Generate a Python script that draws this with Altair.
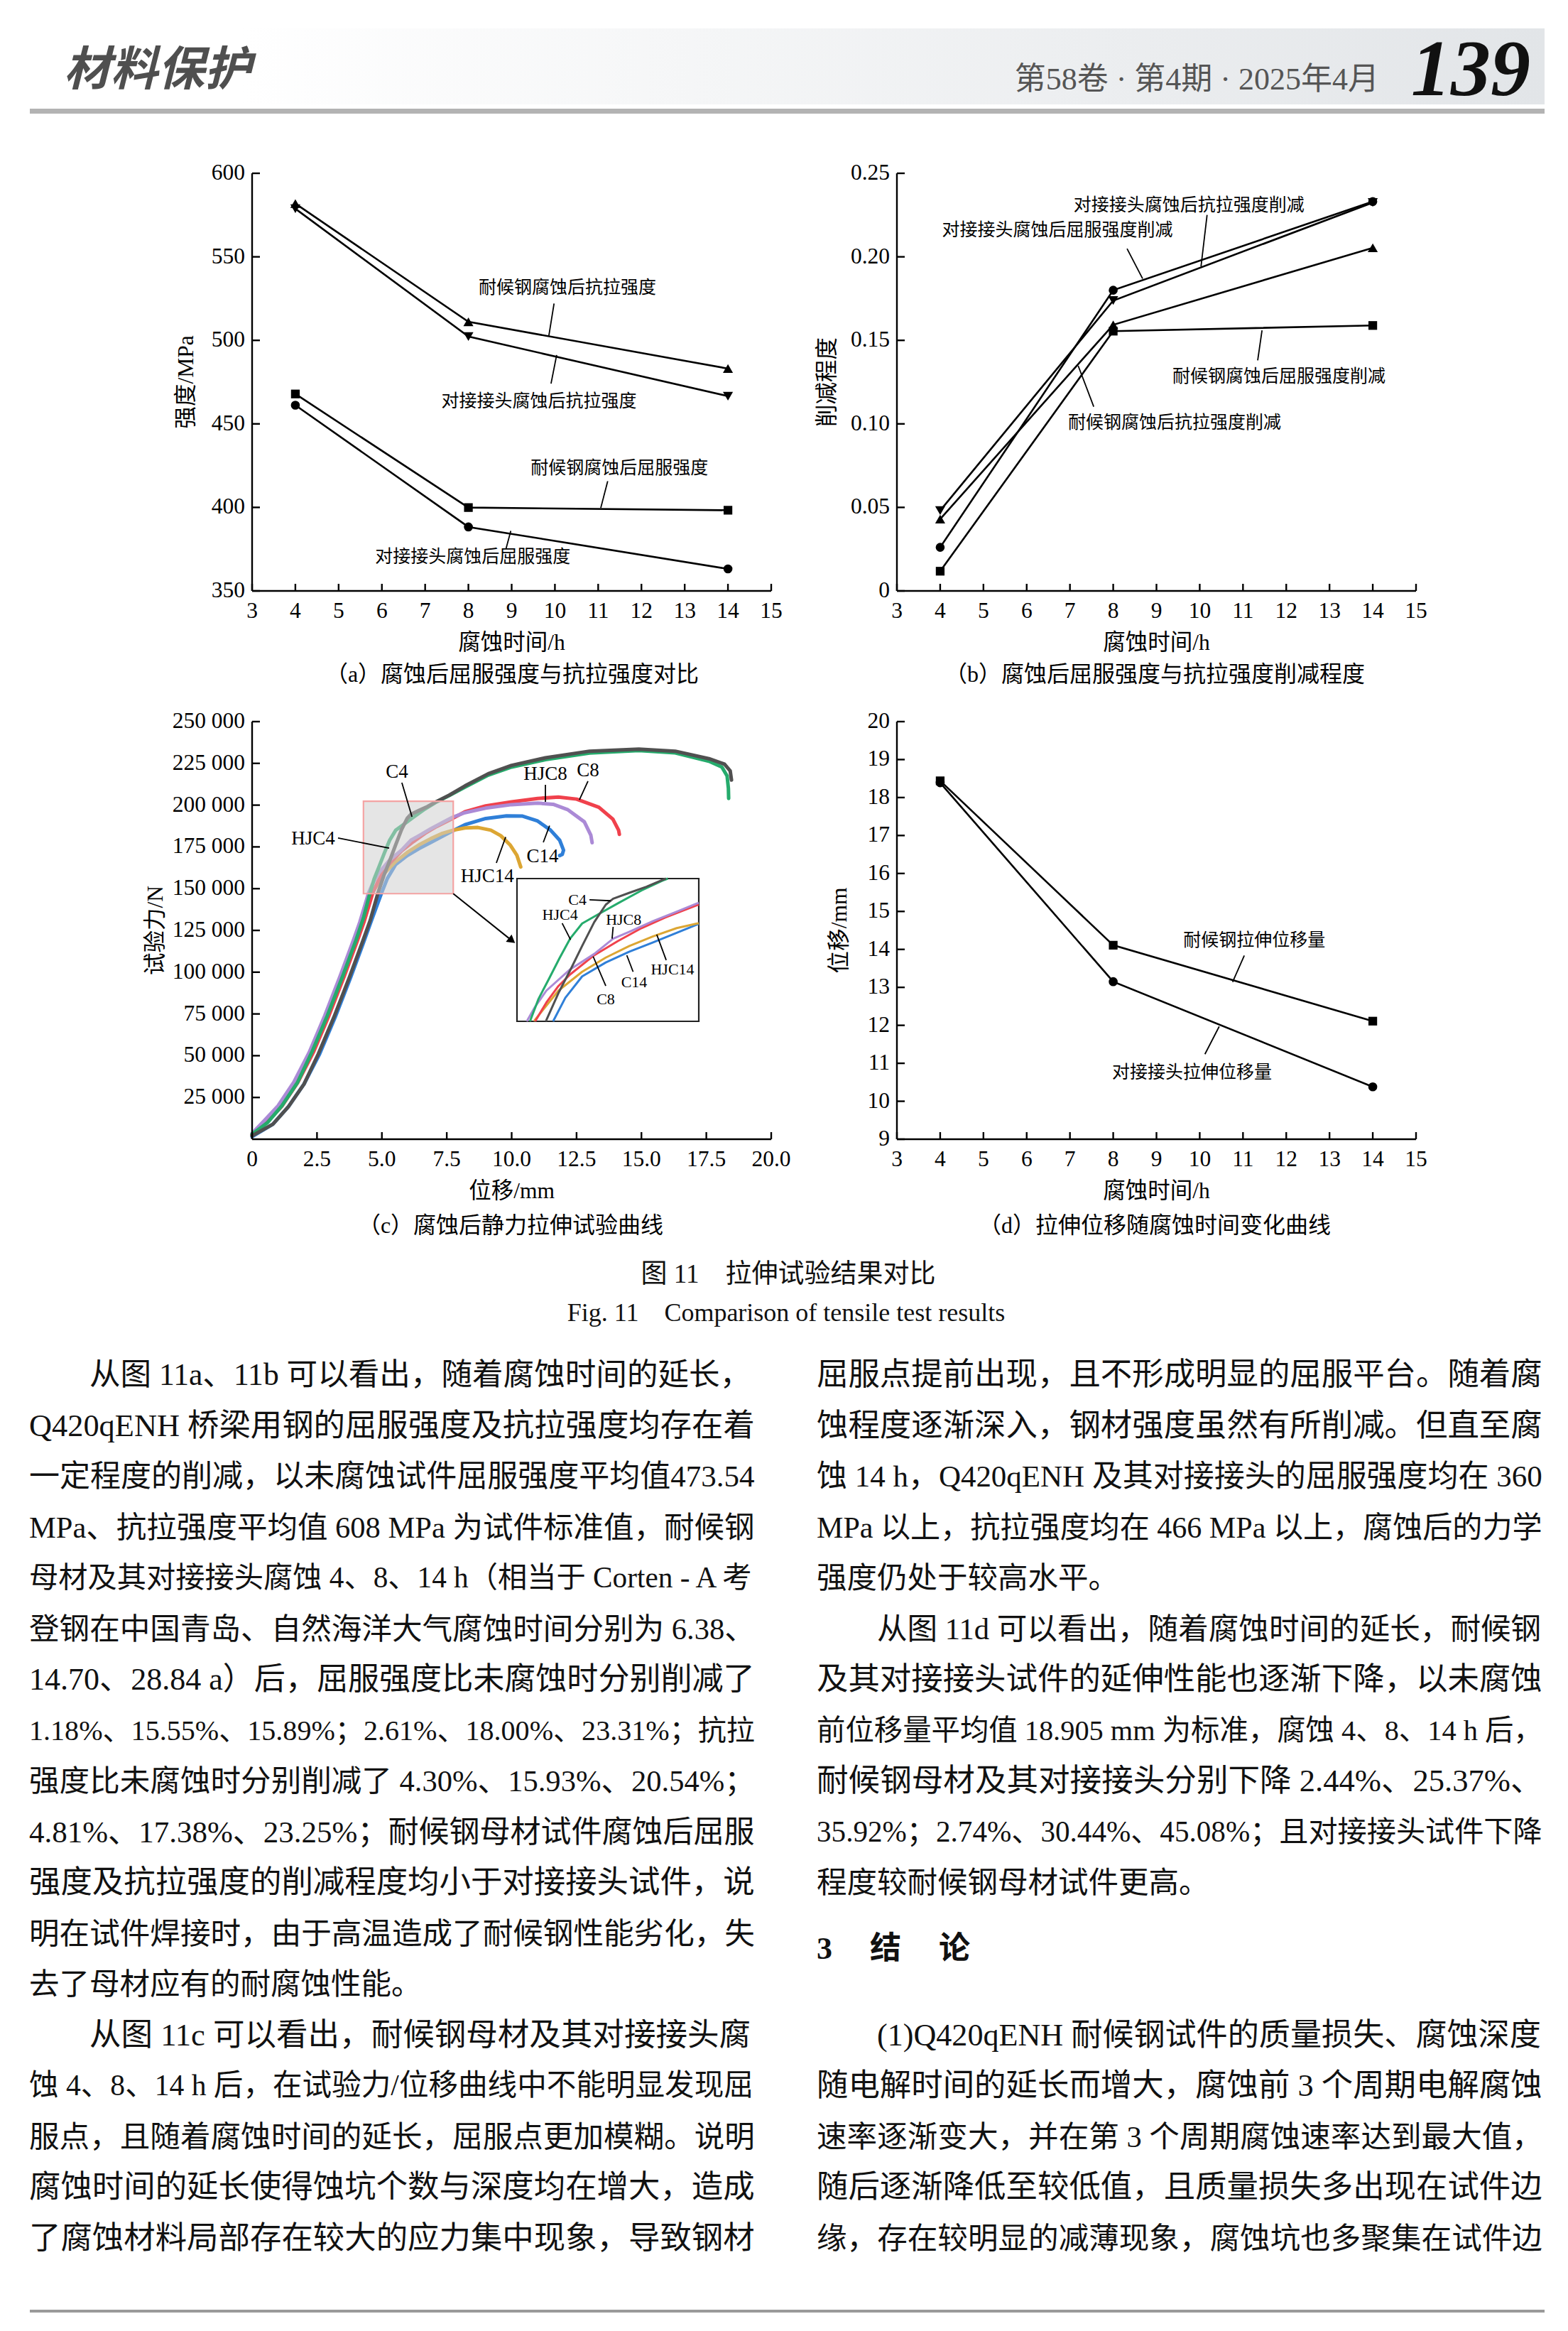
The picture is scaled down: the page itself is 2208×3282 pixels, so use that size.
import altair as alt
import pandas as pd

FONT = "Liberation Serif, Noto Sans CJK SC"
W, H = 731, 588

# ------------------------------------------------------------------ data
times = [4, 8, 14]
# (a) strength, MPa
a_tensile_steel = [581.9, 511.1, 483.1]
a_tensile_joint = [578.8, 502.3, 466.6]
a_yield_steel = [467.9, 399.9, 398.3]
a_yield_joint = [461.2, 388.3, 363.2]
# (b) reduction degree
b_yield_steel = [0.0118, 0.1555, 0.1589]
b_yield_joint = [0.0261, 0.1800, 0.2331]
b_tensile_steel = [0.0430, 0.1593, 0.2054]
b_tensile_joint = [0.0481, 0.1738, 0.2325]
# (d) displacement, mm
d_steel = [18.44, 14.11, 12.11]
d_joint = [18.39, 13.15, 10.38]
# (c) force-displacement curves (mm, kN)
c14_x = [0, 0.8, 1.4, 2.0, 2.6, 3.2, 3.8, 4.3, 4.6, 4.99, 5.21, 5.53, 5.98, 6.43, 6.88, 7.33, 7.72, 8.2, 9.0, 9.8, 10.4, 11.0, 11.5, 11.85, 12.0, 11.95, 11.85]
c14_f = [1.5, 9, 19.5, 33, 51, 73, 97, 118, 131, 147.5, 156.1, 164.4, 169.8, 174, 177.6, 181.3, 184.5, 188.3, 192, 193.6, 193.5, 190.5, 185, 179, 173, 170.5, 169.8]
hjc14_x = [0, 0.56, 1.15, 1.75, 2.35, 2.95, 3.55, 4.05, 4.3, 4.63, 5.08, 5.53, 5.98, 6.43, 6.88, 7.33, 7.72, 8.2, 8.7, 9.2, 9.58, 9.95, 10.2, 10.35]
hjc14_f = [2.8, 10.5, 20.5, 34.5, 52.5, 74.5, 98.5, 119.5, 131, 147.5, 158.9, 166.2, 171.7, 176.2, 179.9, 183.1, 184.9, 186.3, 186.6, 185, 181.7, 176, 170, 163]
c8_x = [0, 0.56, 1.16, 1.76, 2.36, 2.96, 3.56, 4.06, 4.31, 4.65, 4.85, 5.08, 5.31, 5.76, 6.21, 6.66, 7.11, 7.72, 8.2, 9.0, 10.0, 11.0, 11.8, 12.5, 13.36, 13.9, 14.12, 14.15]
c8_f = [2.5, 10, 20, 34, 52, 74, 98, 119, 130, 147.5, 154.3, 160.7, 165.3, 172.6, 178.1, 183.1, 187.2, 192, 196, 199.5, 202, 204, 204.8, 203.6, 198.7, 191.6, 185, 182.5]
hjc8_x = [0, 0.4, 1.0, 1.6, 2.2, 2.8, 3.4, 3.9, 4.15, 4.49, 4.63, 4.85, 5.3, 5.76, 6.12, 6.43, 6.88, 7.33, 7.72, 8.2, 9.0, 10.0, 11.0, 11.6, 12.17, 12.8, 13.05, 13.1]
hjc8_f = [3.5, 10, 20, 34, 52, 74, 98, 119, 130, 147.5, 152.5, 158.9, 167.1, 173.1, 179, 181.7, 185.8, 189.5, 192.7, 195.5, 198.2, 200.3, 201.2, 200.5, 197.2, 190, 182, 177.5]
hjc4_x = [0, 0.6, 1.15, 1.75, 2.3, 2.9, 3.5, 4.0, 4.3, 4.5, 4.7, 4.9, 5.1, 5.3, 5.53, 5.85, 6.21, 6.66, 7.06, 7.6, 8.2, 9.1, 10.0, 11.3, 13.0, 14.9, 16.3, 17.6, 18.1, 18.3, 18.35, 18.36]
hjc4_f = [3, 10, 20, 34, 52, 74, 98, 119, 133, 145, 155.7, 163.5, 171.5, 179, 184.9, 188.6, 192.7, 197.7, 201.5, 205.8, 210.8, 218, 222.8, 227.2, 231.2, 232.7, 231.3, 226.3, 222.8, 217.5, 210, 204]
c4_x = [0, 0.8, 1.4, 2.0, 2.55, 3.15, 3.75, 4.25, 4.55, 4.85, 5.08, 5.31, 5.53, 5.76, 5.98, 6.12, 6.43, 6.75, 7.06, 7.6, 8.2, 9.1, 10.0, 11.3, 13.0, 14.9, 16.3, 17.6, 18.2, 18.42, 18.47]
c4_f = [2, 9, 19.5, 33, 51, 73, 97, 118, 131, 147.5, 158, 167.1, 176.2, 185.4, 192.2, 194.5, 196.8, 199.1, 201.8, 206, 211.5, 218.8, 223.8, 228.3, 232.3, 233.5, 232.3, 227.8, 224.5, 220.5, 215]

curve_names = ["C14", "HJC14", "C8", "HJC8", "HJC4", "C4"]
curve_colors = ["#2f7fd8", "#dca633", "#f0414c", "#ab8ad6", "#25ab6c", "#505050"]
curve_x = [c14_x, hjc14_x, c8_x, hjc8_x, hjc4_x, c4_x]
curve_f = [c14_f, hjc14_f, c8_f, hjc8_f, hjc4_f, c4_f]

# zoomed window of (c)
zoom_x = [4.29, 7.75]
zoom_f = [147000, 202300]

# tick values
t_ticks = list(range(3, 16))
a_yticks = [350, 400, 450, 500, 550, 600]
b_yticks = [0, 0.05, 0.10, 0.15, 0.20, 0.25]
d_yticks = list(range(9, 21))
c_xticks = [0, 2.5, 5, 7.5, 10, 12.5, 15, 17.5, 20]
c_yticks = [25000, 50000, 75000, 100000, 125000, 150000, 175000, 200000, 225000, 250000]

# body text: (text, first line of paragraph, last line of paragraph)
body_left = [
    ("从图 11a、11b 可以看出，随着腐蚀时间的延长，", 1, 0),
    ("Q420qENH 桥梁用钢的屈服强度及抗拉强度均存在着", 0, 0),
    ("一定程度的削减，以未腐蚀试件屈服强度平均值473.54", 0, 0),
    ("MPa、抗拉强度平均值 608 MPa 为试件标准值，耐候钢", 0, 0),
    ("母材及其对接接头腐蚀 4、8、14 h（相当于 Corten - A 考", 0, 0),
    ("登钢在中国青岛、自然海洋大气腐蚀时间分别为 6.38、", 0, 0),
    ("14.70、28.84 a）后，屈服强度比未腐蚀时分别削减了", 0, 0),
    ("1.18%、15.55%、15.89%；2.61%、18.00%、23.31%；抗拉", 0, 0),
    ("强度比未腐蚀时分别削减了 4.30%、15.93%、20.54%；", 0, 0),
    ("4.81%、17.38%、23.25%；耐候钢母材试件腐蚀后屈服", 0, 0),
    ("强度及抗拉强度的削减程度均小于对接接头试件，说", 0, 0),
    ("明在试件焊接时，由于高温造成了耐候钢性能劣化，失", 0, 0),
    ("去了母材应有的耐腐蚀性能。", 0, 1),
    ("从图 11c 可以看出，耐候钢母材及其对接接头腐", 1, 0),
    ("蚀 4、8、14 h 后，在试验力/位移曲线中不能明显发现屈", 0, 0),
    ("服点，且随着腐蚀时间的延长，屈服点更加模糊。说明", 0, 0),
    ("腐蚀时间的延长使得蚀坑个数与深度均在增大，造成", 0, 0),
    ("了腐蚀材料局部存在较大的应力集中现象，导致钢材", 0, 0),
]
body_right = [
    ("屈服点提前出现，且不形成明显的屈服平台。随着腐", 0, 0),
    ("蚀程度逐渐深入，钢材强度虽然有所削减。但直至腐", 0, 0),
    ("蚀 14 h，Q420qENH 及其对接接头的屈服强度均在 360", 0, 0),
    ("MPa 以上，抗拉强度均在 466 MPa 以上，腐蚀后的力学", 0, 0),
    ("强度仍处于较高水平。", 0, 1),
    ("从图 11d 可以看出，随着腐蚀时间的延长，耐候钢", 1, 0),
    ("及其对接接头试件的延伸性能也逐渐下降，以未腐蚀", 0, 0),
    ("前位移量平均值 18.905 mm 为标准，腐蚀 4、8、14 h 后，", 0, 0),
    ("耐候钢母材及其对接接头分别下降 2.44%、25.37%、", 0, 0),
    ("35.92%；2.74%、30.44%、45.08%；且对接接头试件下降", 0, 0),
    ("程度较耐候钢母材试件更高。", 0, 1),
]
body_right2 = [
    ("(1)Q420qENH 耐候钢试件的质量损失、腐蚀深度", 1, 0),
    ("随电解时间的延长而增大，腐蚀前 3 个周期电解腐蚀", 0, 0),
    ("速率逐渐变大，并在第 3 个周期腐蚀速率达到最大值，", 0, 0),
    ("随后逐渐降低至较低值，且质量损失多出现在试件边", 0, 0),
    ("缘，存在较明显的减薄现象，腐蚀坑也多聚集在试件边", 0, 0),
]

# ------------------------------------------------------------------ helpers
DUMMY = pd.DataFrame({"k": [0]})
TICK_FS = 31.5
TITLE_FS = 31.5
CAP_FS = 32


def txt(s, x, y, size=25, align="center", xs=None, ys=None):
    xk = dict(axis=None)
    yk = dict(axis=None)
    if xs is not None:
        xk["scale"] = xs
    if ys is not None:
        yk["scale"] = ys
    return alt.Chart(DUMMY).mark_text(text=s, fontSize=size, font=FONT, color="black",
                                      align=align, baseline="middle").encode(
        x=alt.XDatum(x, **xk), y=alt.YDatum(y, **yk))


def seg(x1, y1, x2, y2, w=1.8):
    return alt.Chart(DUMMY).mark_rule(color="black", strokeWidth=w).encode(
        x=alt.XDatum(x1, axis=None), y=alt.YDatum(y1, axis=None),
        x2=alt.X2Datum(x2), y2=alt.Y2Datum(y2))


def ptxt(s, x, y, size, align="center", baseline="middle", font=FONT, color="black", **kw):
    return alt.Chart(DUMMY).mark_text(text=s, fontSize=size, font=font, align=align,
                                      baseline=baseline, color=color, **kw).encode(
        x=alt.value(x), y=alt.value(y))


def prect(x1, x2, y1, y2, fill):
    return alt.Chart(DUMMY).mark_rect(fill=fill).encode(
        x=alt.value(x1), x2=alt.value(x2), y=alt.value(y1), y2=alt.value(y2))


def axes(xvals, xlabs, yvals, ylabs, xs, ys, xtitle, ytitle, ytitle_x):
    """axis lines, inward ticks, labels and titles drawn through the panel scales"""
    L = []
    L.append(alt.Chart(DUMMY).mark_rule(color="black", strokeWidth=2.4).encode(
        x=alt.value(0), x2=alt.value(W), y=alt.value(H)))
    L.append(alt.Chart(DUMMY).mark_rule(color="black", strokeWidth=2.4).encode(
        x=alt.value(0), y=alt.value(0), y2=alt.value(H)))
    xdf = pd.DataFrame({"tv": xvals, "lab": xlabs})
    ydf = pd.DataFrame({"tv": yvals, "lab": ylabs})
    L.append(alt.Chart(xdf).mark_rule(color="black", strokeWidth=2.4).encode(
        x=alt.X("tv:Q", scale=xs, axis=None), y=alt.value(H), y2=alt.value(H - 10)))
    L.append(alt.Chart(ydf).mark_rule(color="black", strokeWidth=2.4).encode(
        y=alt.Y("tv:Q", scale=ys, axis=None), x=alt.value(0), x2=alt.value(11)))
    L.append(alt.Chart(xdf).mark_text(font=FONT, fontSize=TICK_FS, color="black", align="center",
                                      baseline="middle").encode(
        x=alt.X("tv:Q", scale=xs, axis=None), y=alt.value(H + 29), text="lab:N"))
    L.append(alt.Chart(ydf).mark_text(font=FONT, fontSize=TICK_FS, color="black", align="right",
                                      baseline="middle").encode(
        y=alt.Y("tv:Q", scale=ys, axis=None), x=alt.value(-10), text="lab:N"))
    L.append(ptxt(xtitle, W / 2, H + 74, TITLE_FS))
    L.append(ptxt(ytitle, ytitle_x, 294, TITLE_FS, angle=270))
    return L


def series(x, y, shape, size, xs, ys):
    df = pd.DataFrame({"t": x, "v": y})
    b = alt.Chart(df)
    ln = b.mark_line(color="black", strokeWidth=2.6).encode(
        x=alt.X("t:Q", scale=xs, axis=None), y=alt.Y("v:Q", scale=ys, axis=None))
    pt = b.mark_point(shape=shape, size=size, filled=True, color="black", opacity=1).encode(
        x=alt.X("t:Q", scale=xs, axis=None), y=alt.Y("v:Q", scale=ys, axis=None))
    return [ln, pt]


SQ, CI, TU, TD = ("square", 150), ("circle", 160), ("triangle-up", 200), ("triangle-down", 200)
t_labels = [str(v) for v in t_ticks]

# ------------------------------------------------------------------ (a)
xs_a = alt.Scale(domain=[3, 15], nice=False, zero=False)
ys_a = alt.Scale(domain=[350, 600], nice=False, zero=False)
pa_layers = []
pa_layers += series(times, a_tensile_steel, *TU, xs_a, ys_a)
pa_layers += series(times, a_tensile_joint, *TD, xs_a, ys_a)
pa_layers += series(times, a_yield_steel, *SQ, xs_a, ys_a)
pa_layers += series(times, a_yield_joint, *CI, xs_a, ys_a)
pa_layers += axes(t_ticks, t_labels, a_yticks, [str(v) for v in a_yticks], xs_a, ys_a,
                  "腐蚀时间/h", "强度/MPa", -92)
pa_layers += [
    txt("耐候钢腐蚀后抗拉强度", 10.29, 531.5), seg(9.98, 522, 9.86, 502.8),
    txt("对接接头腐蚀后抗拉强度", 9.63, 463.5), seg(9.91, 474.1, 10.04, 491.2),
    txt("耐候钢腐蚀后屈服强度", 11.49, 423.6), seg(11.22, 415.7, 11.06, 399.7),
    txt("对接接头腐蚀后屈服强度", 8.1, 370.4), seg(8.87, 375.3, 8.98, 385.9),
    ptxt("（a）腐蚀后屈服强度与抗拉强度对比", 366, 706, CAP_FS),
]
pa = alt.layer(*pa_layers).properties(width=W, height=H)

# ------------------------------------------------------------------ (b)
xs_b = alt.Scale(domain=[3, 15], nice=False, zero=False)
ys_b = alt.Scale(domain=[0, 0.25], nice=False, zero=False)
pb_layers = []
pb_layers += series(times, b_yield_steel, *SQ, xs_b, ys_b)
pb_layers += series(times, b_yield_joint, *CI, xs_b, ys_b)
pb_layers += series(times, b_tensile_steel, *TU, xs_b, ys_b)
pb_layers += series(times, b_tensile_joint, *TD, xs_b, ys_b)
pb_layers += axes(t_ticks, t_labels, b_yticks, ["0" if v == 0 else f"{v:.2f}" for v in b_yticks],
                  xs_b, ys_b, "腐蚀时间/h", "削减程度", -97)
pb_layers += [
    txt("对接接头腐蚀后抗拉强度削减", 9.75, 0.2309), seg(10.17, 0.2251, 10.03, 0.1943),
    txt("对接接头腐蚀后屈服强度削减", 6.71, 0.216), seg(8.32, 0.2049, 8.68, 0.1869),
    txt("耐候钢腐蚀后屈服强度削减", 11.83, 0.1284), seg(11.34, 0.138, 11.44, 0.156),
    txt("耐候钢腐蚀后抗拉强度削减", 9.42, 0.1008), seg(7.55, 0.1103, 7.19, 0.1348),
    ptxt("（b）腐蚀后屈服强度与抗拉强度削减程度", 363, 706, CAP_FS),
]
pb = alt.layer(*pb_layers).properties(width=W, height=H)

# ------------------------------------------------------------------ (d)
xs_d = alt.Scale(domain=[3, 15], nice=False, zero=False)
ys_d = alt.Scale(domain=[9, 20], nice=False, zero=False)
pd_layers = []
pd_layers += series(times, d_steel, *SQ, xs_d, ys_d)
pd_layers += series(times, d_joint, *CI, xs_d, ys_d)
pd_layers += axes(t_ticks, t_labels, d_yticks, [str(v) for v in d_yticks], xs_d, ys_d,
                  "腐蚀时间/h", "位移/mm", -80)
pd_layers += [
    txt("耐候钢拉伸位移量", 11.26, 14.24), seg(11.03, 13.84, 10.76, 13.14),
    txt("对接接头拉伸位移量", 9.82, 10.76), seg(10.12, 11.24, 10.45, 11.97),
    ptxt("（d）拉伸位移随腐蚀时间变化曲线", 363, 710, CAP_FS),
]
pd_ = alt.layer(*pd_layers).properties(width=W, height=H)

# ------------------------------------------------------------------ (c)
rows = []
for name, xs_, fs_ in zip(curve_names, curve_x, curve_f):
    for i, (xv, fv) in enumerate(zip(xs_, fs_)):
        rows.append({"s": name, "x": xv, "f": fv * 1000, "i": i})
curves_df = pd.DataFrame(rows)


def clip_poly(xs_, ys_, x0, x1, y0, y1):
    out = []
    for i in range(len(xs_) - 1):
        ax_, ay_, bx_, by_ = xs_[i], ys_[i], xs_[i + 1], ys_[i + 1]
        dx, dy = bx_ - ax_, by_ - ay_
        t0, t1, ok = 0.0, 1.0, True
        for p, q in ((-dx, ax_ - x0), (dx, x1 - ax_), (-dy, ay_ - y0), (dy, y1 - ay_)):
            if p == 0:
                if q < 0:
                    ok = False
                    break
            else:
                r = q / p
                if p < 0:
                    if r > t1:
                        ok = False
                        break
                    t0 = max(t0, r)
                else:
                    if r < t0:
                        ok = False
                        break
                    t1 = min(t1, r)
        if not ok:
            continue
        p0 = (ax_ + t0 * dx, ay_ + t0 * dy)
        p1 = (ax_ + t1 * dx, ay_ + t1 * dy)
        if not out or abs(out[-1][0] - p0[0]) > 1e-9 or abs(out[-1][1] - p0[1]) > 1e-6:
            out.append(p0)
        out.append(p1)
    return out


irows = []
for name, xs_, fs_ in zip(curve_names, curve_x, curve_f):
    pts = clip_poly(xs_, [v * 1000 for v in fs_], zoom_x[0], zoom_x[1], zoom_f[0], zoom_f[1])
    for i, (xv, fv) in enumerate(pts):
        irows.append({"s": name, "x": xv, "f": fv, "i": i})
inset_df = pd.DataFrame(irows)

xs_c = alt.Scale(domain=[0, 20], nice=False, zero=False)
ys_c = alt.Scale(domain=[0, 250000], nice=False, zero=False)
color_c = alt.Color("s:N", scale=alt.Scale(domain=curve_names, range=curve_colors), legend=None)

main_curves = alt.Chart(curves_df).mark_line(strokeWidth=5, strokeCap="round", strokeJoin="round").encode(
    x=alt.X("x:Q", scale=xs_c, axis=None), y=alt.Y("f:Q", scale=ys_c, axis=None),
    color=color_c, order="i:Q")
shade = alt.Chart(DUMMY).mark_rect(fill="#cfcfcf", fillOpacity=0.55, stroke="#f4a3a3", strokeWidth=2.2).encode(
    x=alt.XDatum(zoom_x[0], axis=None), x2=alt.X2Datum(zoom_x[1]),
    y=alt.YDatum(zoom_f[0], axis=None), y2=alt.Y2Datum(zoom_f[1]))
arrow_head = alt.Chart(DUMMY).mark_point(shape="triangle-up", size=170, filled=True, color="black",
                                         opacity=1, angle=128).encode(
    x=alt.XDatum(10.01, axis=None), y=alt.YDatum(118900, axis=None))
c_xlabs = ["0" if v == 0 else f"{v:.1f}" for v in c_xticks]
c_ylabs = [f"{v:,}".replace(",", " ") for v in c_yticks]
main_layers = [main_curves, shade] + axes(c_xticks, c_xlabs, c_yticks, c_ylabs, xs_c, ys_c,
                                          "位移/mm", "试验力/N", -135) + [
    seg(7.75, 147000, 10.01, 118900, 2),
    arrow_head,
    txt("C4", 5.58, 220000, 27), seg(5.77, 213400, 6.16, 193000),
    txt("HJC4", 2.35, 179800, 27), seg(3.31, 180300, 5.28, 174300),
    txt("HJC8", 11.3, 218500, 27), seg(11.3, 212200, 11.3, 202000),
    txt("C8", 12.94, 220700, 27), seg(12.94, 214300, 12.61, 203200),
    txt("C14", 11.19, 169200, 27), seg(11.22, 177700, 11.46, 187700),
    txt("HJC14", 9.06, 157500, 27), seg(9.41, 165400, 9.77, 180900),
    ptxt("（c）腐蚀后静力拉伸试验曲线", 364, 710, CAP_FS),
]
main_group = alt.layer(*main_layers)

xs_i = alt.Scale(domain=zoom_x, range=[373, 629], nice=False, zero=False)
ys_i = alt.Scale(domain=zoom_f, range=[422, 221], nice=False, zero=False)
inset_box = alt.Chart(DUMMY).mark_rect(fill="white", stroke="#222222", strokeWidth=2.2).encode(
    x=alt.XDatum(zoom_x[0], axis=None, scale=xs_i), x2=alt.X2Datum(zoom_x[1]),
    y=alt.YDatum(zoom_f[0], axis=None, scale=ys_i), y2=alt.Y2Datum(zoom_f[1]))
inset_curves = alt.Chart(inset_df).mark_line(strokeWidth=3, strokeJoin="round").encode(
    x=alt.X("x:Q", scale=xs_i, axis=None), y=alt.Y("f:Q", scale=ys_i, axis=None),
    color=color_c, order="i:Q")
inset_layers = [inset_box, inset_curves,
                txt("C4", 5.44, 194100, 22), seg(5.67, 194100, 6.07, 193700),
                txt("HJC4", 5.11, 188200, 22), seg(5.15, 185000, 5.31, 178600),
                txt("HJC8", 6.32, 186300, 22), seg(6.12, 183600, 6.10, 179000),
                txt("C8", 5.98, 155600, 22), seg(5.98, 160700, 5.74, 172100),
                txt("C14", 6.52, 162000, 22), seg(6.50, 166200, 6.38, 172600),
                txt("HJC14", 7.25, 167100, 22), seg(7.13, 170700, 6.95, 180600)]
inset_group = alt.layer(*inset_layers)
pc = alt.layer(main_group, inset_group).resolve_scale(x="independent", y="independent").properties(width=W, height=H)

# ------------------------------------------------------------------ page (captions, header, body)
OX, OY = 355, 1788  # page position of this chart's origin
BODY_FS = 42.5
COL_W = 1022
UPW = dict(Q=.722, E=.611, N=.722, H=.722, M=.889, P=.556, A=.722, C=.667)
LOW = dict(q=.5, a=.444, b=.5, c=.444, d=.5, h=.5, m=.778, n=.5, o=.5, r=.333, t=.278, e=.444, s=.389)


def em_width(s):
    w = 0.0
    for ch in s:
        if ord(ch) >= 0x2E80:
            w += 1.0
        elif ch.isdigit():
            w += 0.5
        elif ch == ".":
            w += 0.25
        elif ch == "%":
            w += 0.833
        elif ch == " ":
            w += 0.25
        elif ch in "-/()":
            w += 0.32
        elif ch.isupper():
            w += UPW.get(ch, 0.67)
        else:
            w += LOW.get(ch, 0.45)
    return w


body_rows = []
for col, block, start in ((0, body_left, 0), (1, body_right, 0), (1, body_right2, 13)):
    for r, (s, ind, last) in enumerate(block):
        need = (em_width(s) + 2 * ind) * BODY_FS
        if last:
            fs = BODY_FS
        else:
            fs = max(0.85 * BODY_FS, min(1.05 * BODY_FS, BODY_FS * COL_W / need))
        body_rows.append({"text": s, "col": col, "row": r + start, "ind": ind, "fs": fs})
body_df = pd.DataFrame(body_rows)
bx = alt.X("col:Q", scale=alt.Scale(domain=[0, 1], range=[41 - OX, 1150 - OX], nice=False, zero=False), axis=None)
by = alt.Y("row:Q", scale=alt.Scale(domain=[0, 1], range=[1937 - OY, 2008.5 - OY], nice=False, zero=False), axis=None)
body_plain = alt.Chart(body_df).transform_filter("datum.ind == 0").mark_text(
    align="left", baseline="middle", font=FONT, color="#111111").encode(
    x=bx, y=by, text="text:N", size=alt.Size("fs:Q", scale=None))
body_indent = alt.Chart(body_df).transform_filter("datum.ind == 1").mark_text(
    align="left", baseline="middle", font=FONT, color="#111111", dx=2 * BODY_FS).encode(
    x=bx, y=by, text="text:N", size=alt.Size("fs:Q", scale=None))

band_fill = {"gradient": "linear", "x1": 0, "y1": 0, "x2": 1, "y2": 0,
             "stops": [{"offset": 0, "color": "#ffffff"}, {"offset": 1, "color": "#e2e5e8"}]}
page_layers = [
    prect(8 - OX, 9 - OX, 8 - OY, 9 - OY, "#ffffff"),          # page corner anchors
    prect(2198 - OX, 2199 - OX, 3272 - OY, 3273 - OY, "#ffffff"),
    alt.Chart(DUMMY).mark_rect(fill=band_fill).encode(
        x=alt.value(340 - OX), x2=alt.value(2175 - OX), y=alt.value(40 - OY), y2=alt.value(147 - OY)),
    prect(42 - OX, 2175 - OX, 153 - OY, 160 - OY, "#b3b3b3"),
    ptxt("材料保护", 90 - OX, 100 - OY, 66, align="left", font="Noto Sans CJK SC",
         fontStyle="italic", fontWeight="bold", color="#4f4f4f"),
    ptxt("第58卷 · 第4期 · 2025年4月", 1942 - OX, 113 - OY, 44, align="right", color="#555555"),
    ptxt("139", 2155 - OX, 100 - OY, 112, align="right", font="Liberation Serif",
         fontStyle="italic", fontWeight="bold", color="#111111"),
    ptxt("图 11　拉伸试验结果对比", 1110 - OX, 1795 - OY, 37, color="#111111"),
    ptxt("Fig. 11　Comparison of tensile test results", 1107 - OX, 1849 - OY, 36,
         font="Liberation Serif", color="#111111"),
    body_plain,
    body_indent,
    ptxt("3", 1150 - OX, 2745 - OY, 44, align="left", fontWeight="bold", color="#111111"),
    ptxt("结", 1225 - OX, 2745 - OY, 44, align="left", fontWeight="bold", color="#111111"),
    ptxt("论", 1322 - OX, 2745 - OY, 44, align="left", fontWeight="bold", color="#111111"),
    prect(42 - OX, 2175 - OX, 3252 - OY, 3256 - OY, "#9a9a9a"),
]
page = alt.layer(*page_layers).properties(width=W, height=20)

chart = alt.concat(pa, pb, pc, pd_, page, columns=2,
                   spacing={"row": 184, "column": 177}, bounds="flush").properties(
    padding={"left": 0, "top": 0, "right": 0, "bottom": 0}
).configure_view(stroke=None)

chart.save("out.html", embed_options={"renderer": "svg", "actions": False})
